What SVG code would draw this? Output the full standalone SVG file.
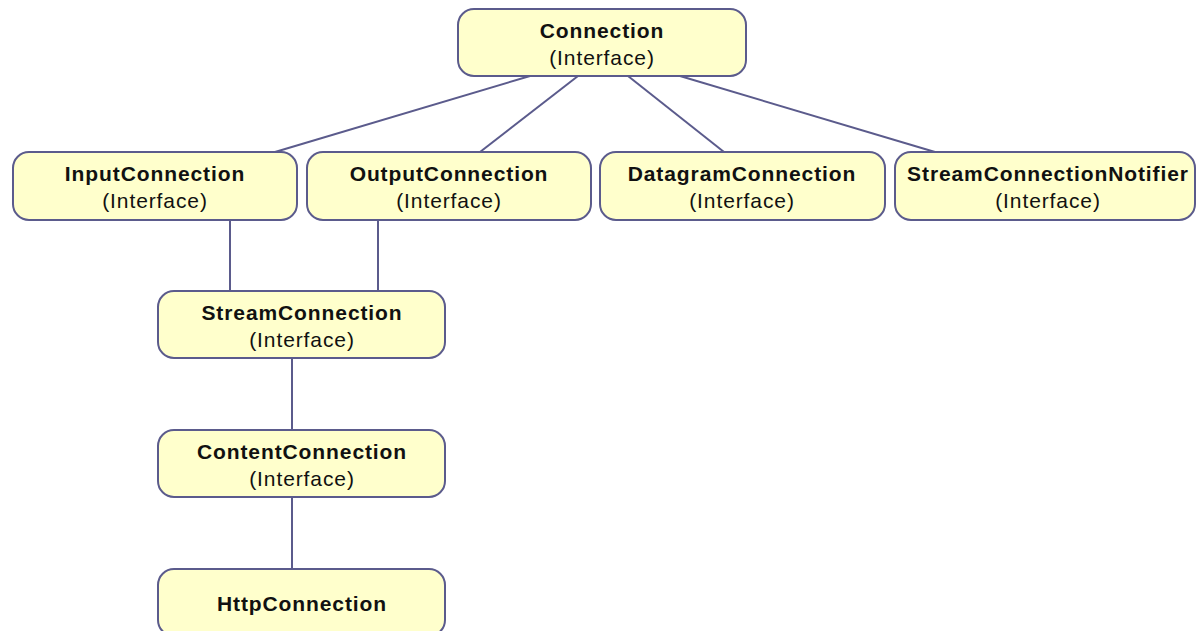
<svg xmlns="http://www.w3.org/2000/svg" width="1197" height="631" viewBox="0 0 1197 631">
<style>
.box{fill:#ffffcc;stroke:#5b5b8c;stroke-width:2}
.t{font-family:"Liberation Sans",Arial,sans-serif;font-size:21px;letter-spacing:0.9px;text-anchor:middle;fill:#111}
.b{font-weight:bold}
.edge{stroke:#5b5b8c;stroke-width:2;fill:none}
</style>
<rect width="1197" height="631" fill="#ffffff"/>
<g id="connectors">
<line class="edge" x1="530" y1="76" x2="275" y2="152"/>
<line class="edge" x1="578" y1="76" x2="480" y2="152"/>
<line class="edge" x1="628" y1="76" x2="724" y2="152"/>
<line class="edge" x1="680" y1="76" x2="935" y2="152"/>
<line class="edge" x1="230" y1="220" x2="230" y2="291"/>
<line class="edge" x1="378" y1="220" x2="378" y2="291"/>
<line class="edge" x1="292" y1="358" x2="292" y2="430"/>
<line class="edge" x1="292" y1="497" x2="292" y2="569"/>
</g>
<g id="connection">
<rect class="box" x="458" y="9" width="288" height="67" rx="16"/>
<text class="t b" x="602" y="38">Connection</text>
<text class="t" x="602" y="65">(Interface)</text>
</g>
<g id="inputconnection">
<rect class="box" x="13" y="152" width="284" height="68" rx="16"/>
<text class="t b" x="155" y="181">InputConnection</text>
<text class="t" x="155" y="208">(Interface)</text>
</g>
<g id="outputconnection">
<rect class="box" x="307" y="152" width="284" height="68" rx="16"/>
<text class="t b" x="449" y="181">OutputConnection</text>
<text class="t" x="449" y="208">(Interface)</text>
</g>
<g id="datagramconnection">
<rect class="box" x="600" y="152" width="285" height="68" rx="16"/>
<text class="t b" x="742" y="181">DatagramConnection</text>
<text class="t" x="742" y="208">(Interface)</text>
</g>
<g id="streamconnectionnotifier">
<rect class="box" x="895" y="152" width="300" height="68" rx="16"/>
<text class="t b" x="1048" y="181">StreamConnectionNotifier</text>
<text class="t" x="1048" y="208">(Interface)</text>
</g>
<g id="streamconnection">
<rect class="box" x="158" y="291" width="287" height="67" rx="16"/>
<text class="t b" x="302" y="320">StreamConnection</text>
<text class="t" x="302" y="347">(Interface)</text>
</g>
<g id="contentconnection">
<rect class="box" x="158" y="430" width="287" height="67" rx="16"/>
<text class="t b" x="302" y="459">ContentConnection</text>
<text class="t" x="302" y="486">(Interface)</text>
</g>
<g id="httpconnection">
<rect class="box" x="158" y="569" width="287" height="67" rx="16"/>
<text class="t b" x="302" y="611">HttpConnection</text>
</g>
</svg>
